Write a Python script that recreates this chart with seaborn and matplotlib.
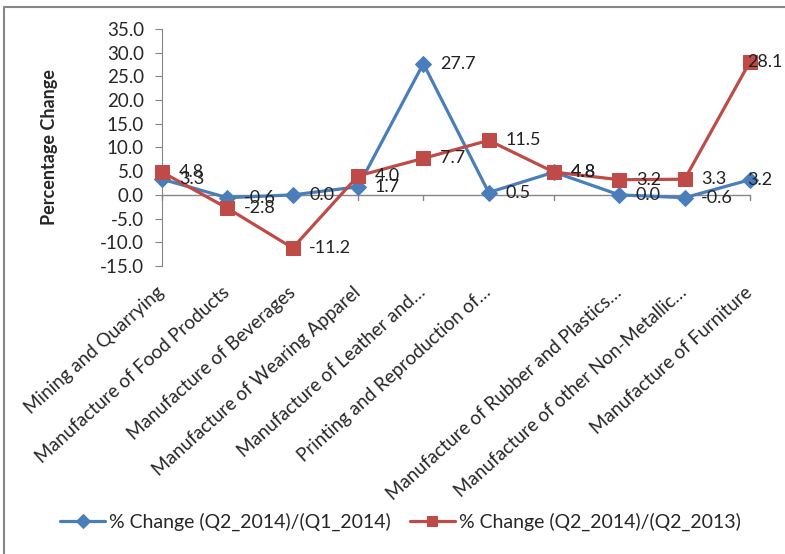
import numpy as np
import pandas as pd
import matplotlib
matplotlib.use("Agg")
import matplotlib.pyplot as plt
import seaborn as sns
from matplotlib.lines import Line2D
import matplotlib.transforms as mtransforms

categories = ["Mining and Quarrying", "Manufacture of Food Products",
              "Manufacture of Beverages", "Manufacture of Wearing Apparel",
              "Manufacture of Leather and…", "Printing and Reproduction of…",
              "", "Manufacture of Rubber and Plastics…",
              "Manufacture of other Non-Metallic…", "Manufacture of Furniture"]
q1_change = [3.3, -0.6, 0.0, 1.7, 27.7, 0.5, 4.8, 0.0, -0.6, 3.2]
q2_change = [4.8, -2.8, -11.2, 4.0, 7.7, 11.5, 4.8, 3.2, 3.3, 28.1]
series_names = ["% Change (Q2_2014)/(Q1_2014)", "% Change (Q2_2014)/(Q2_2013)"]

sns.set_style("white")
plt.rcParams['font.family'] = ['Lato', 'DejaVu Sans']

df = pd.DataFrame({
    "pos": list(range(len(categories))) * 2,
    "value": q1_change + q2_change,
    "series": [series_names[0]] * len(categories) + [series_names[1]] * len(categories),
})

fig = plt.figure(figsize=(7.85, 5.54), dpi=100)
ax = fig.add_axes([0.2064, 0.5199, 0.749, 0.4278])

colors = ["#4A7EBB", "#BE4B48"]
markers = ["D", "s"]
sizes = [8.5, 9.5]
n = len(categories)
for name, col, mk, ms in zip(series_names, colors, markers, sizes):
    sub = df[df["series"] == name]
    sns.lineplot(data=sub, x="pos", y="value", ax=ax, color=col, linewidth=2.3,
                 marker=mk, markersize=ms, markeredgecolor=col, label=name,
                 clip_on=False, zorder=3)
    for x, y in zip(sub["pos"], sub["value"]):
        # the last labels sit on top of their markers, as in the original
        dx = -2 if x == n - 1 else 12
        ax.annotate(f"{y:.1f}", (x, y), xytext=(dx, 0), textcoords="offset points",
                    ha="left", va="center", fontsize=13, color="#222222", zorder=4)

ax.set_xlim(0, 9)
ax.set_ylim(-15, 35)
ticks = np.arange(-15, 36, 5)
ax.set_yticks(ticks)
ax.set_yticklabels([f"{v:.1f}" for v in ticks], fontsize=13.5)
ax.set_xticks(range(n))
ax.set_xticklabels(categories, rotation=42, ha="right", va="center",
                   rotation_mode="anchor", fontsize=13.5)
offset = mtransforms.ScaledTranslation(4 / 100, 0, fig.dpi_scale_trans)
for lbl in ax.get_xticklabels():
    lbl.set_transform(lbl.get_transform() + offset)
ax.tick_params(axis="x", length=0, pad=17)
ax.tick_params(axis="y", length=5, color="#868686", left=True, direction="out", pad=8)
ax.set_xlabel("")
ax.set_ylabel("Percentage Change", fontsize=13, fontweight="bold", labelpad=30)

for s in ["top", "right", "bottom"]:
    ax.spines[s].set_visible(False)
ax.spines["left"].set_color("#868686")
ax.axhline(0, color="#868686", linewidth=1, zorder=1)
for x in range(n):
    ax.plot([x, x], [0, -1.0], color="#868686", linewidth=1, zorder=1, clip_on=False)

ax.legend_.remove()
handles, labels = ax.get_legend_handles_labels()
fig.legend(handles, labels, loc="center", bbox_to_anchor=(0.51, 0.058), ncol=2,
           frameon=False, fontsize=14, handlelength=2.3, handletextpad=0.2,
           columnspacing=1.0, markerscale=0.8)

# outer chart frame: only the top and left edges show in the reference
fig.add_artist(Line2D([0.005, 0.005, 1.0], [0.0, 0.988, 0.988], transform=fig.transFigure,
                      color="#868686", linewidth=1.5))

fig.savefig("out.png", dpi=100)
